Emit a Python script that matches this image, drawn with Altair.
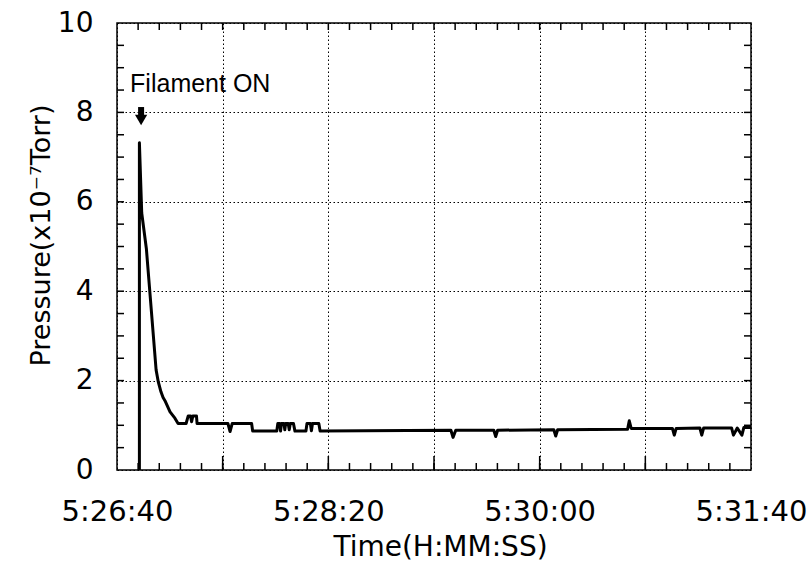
import altair as alt
import pandas as pd

# ---- data (seconds after 5:26:40, pressure in 1e-7 Torr) ----
time_s = [10.6, 10.6, 11.7, 13.9, 18.5, 19.5, 20.8, 21.8, 22.7, 25.1, 27.4, 28.9,
          32.7, 33.7, 34.8, 35.3, 35.9, 37.6, 37.9,
          52.5, 53.5, 54.5, 63.7, 64.2,
          75.6, 76.1, 77.0, 77.4, 77.8, 79.0, 79.4, 79.8, 81.0, 81.5, 82.0, 83.5, 84.2,
          89.4, 89.9, 91.5, 92.0, 92.5, 95.5, 96.1,
          158.0, 159.0, 160.3, 178.3, 179.2, 180.1, 206.7, 207.6, 208.5,
          241.6, 242.4, 243.3, 262.8, 263.7, 264.6, 275.8, 276.7, 277.6,
          290.8, 291.7, 293.5, 295.7, 296.6, 300.0]
pressure = [0.0, 7.32, 5.75, 4.95, 2.24, 1.98, 1.75, 1.62, 1.55, 1.30, 1.16, 1.04,
            1.04, 1.21, 1.21, 1.08, 1.21, 1.21, 1.04,
            1.04, 0.86, 1.04, 1.04, 0.87,
            0.87, 1.04, 1.04, 0.87, 1.04, 1.04, 0.90, 1.04, 1.04, 0.90, 1.04, 1.04, 0.87,
            0.87, 1.04, 1.04, 0.88, 1.04, 1.04, 0.87,
            0.89, 0.73, 0.89, 0.89, 0.75, 0.89, 0.90, 0.76, 0.90,
            0.91, 1.10, 0.93, 0.93, 0.78, 0.93, 0.94, 0.78, 0.94,
            0.94, 0.78, 0.94, 0.78, 0.95, 0.95]

x_grid_values = [0, 50, 100, 150, 200, 250, 300]
y_label_values = [0, 2, 4, 6, 8, 10]
x_minor_ticks = [v for v in range(10, 300, 10)]
x_major_ticks = [50, 100, 150, 200, 250]
y_minor_ticks = [v / 2 for v in range(1, 20)]

annotation_text = "Filament ON"

# ---- layout / style constants ----
W, H = 634, 447
TICK_P = 7 / 44.7       # 7 px in pressure units
TICK_T = 7 / 2.113      # 7 px in seconds
FONT = "DejaVu Sans"

df = pd.DataFrame({"t": time_s, "p": pressure})

xscale = alt.Scale(domain=[0, 300], nice=False, zero=False)
yscale = alt.Scale(domain=[0, 10], nice=False)

label_expr = (
    "datum.value % 100 == 0 ? "
    "(floor((19600 + datum.value) / 3600) + ':' + "
    "format(floor(((19600 + datum.value) % 3600) / 60), '02d') + ':' + "
    "format((19600 + datum.value) % 60, '02d')) : ''"
)

xaxis = alt.Axis(values=x_grid_values, labelExpr=label_expr, grid=True,
                 ticks=False, domain=False, labelFlush=False, labelOverlap=False,
                 labelFont=FONT, labelFontSize=29, labelPadding=27, labelColor="black",
                 title="Time(H:MM:SS)", titleFont=FONT, titleFontSize=28,
                 titleFontWeight="normal", titleColor="black",
                 titleBaseline="alphabetic", titleY=85, titleX=323)
yaxis = alt.Axis(values=y_label_values, grid=True, ticks=False, domain=False,
                 labelFont=FONT, labelFontSize=28, labelPadding=24, labelColor="black",
                 labelFlush=False, labelOverlap=False,
                 title="Pressure(x10\u207b\u2077Torr)", titleFont=FONT, titleFontSize=27,
                 titleFontWeight="normal", titleColor="black",
                 titleBaseline="alphabetic", titleX=-67.5, titleY=212, titleAngle=270)


def X():
    return alt.X("t:Q", scale=xscale, axis=xaxis)


def Y():
    return alt.Y("p:Q", scale=yscale, axis=yaxis)


line = alt.Chart(df).mark_line(color="black", strokeWidth=3, strokeJoin="round").encode(
    x=X(), y=Y()
)


def xticks(values, p0, p1):
    return alt.Chart(pd.DataFrame({"t": values})).transform_calculate(
        p=str(p0), p2=str(p1)
    ).mark_rule(color="black", strokeWidth=1.5).encode(x=X(), y=Y(), y2="p2:Q")


def yticks(values, t0, t1):
    return alt.Chart(pd.DataFrame({"p": values})).transform_calculate(
        t=str(t0), t2=str(t1)
    ).mark_rule(color="black", strokeWidth=1.5).encode(x=X(), y=Y(), x2="t2:Q")


ticks = [
    xticks(x_minor_ticks, 0, TICK_P),
    xticks(x_major_ticks, 0, 2 * TICK_P),
    xticks(x_minor_ticks, 10, 10 - TICK_P),
    yticks(y_minor_ticks, 0, TICK_T),
    yticks(y_minor_ticks, 300, 300 - TICK_T),
]

ANN_T, ANN_P = 6.2, 8.46
ARROW_T = 11.4

ann = alt.Chart(pd.DataFrame({"t": [ANN_T], "p": [ANN_P], "label": [annotation_text]})).mark_text(
    align="left", baseline="alphabetic", font="Liberation Sans", fontSize=25, color="black"
).encode(x=X(), y=Y(), text="label:N")

shaft = alt.Chart(pd.DataFrame({"t": [ARROW_T], "p": [8.12], "p2": [7.88]})).mark_rule(
    color="black", strokeWidth=6
).encode(x=X(), y=Y(), y2="p2:Q")

head = alt.Chart(pd.DataFrame({"t": [ARROW_T], "p": [7.83]})).mark_point(
    shape="triangle-down", filled=True, color="black", size=150, opacity=1
).encode(x=X(), y=Y())

chart = alt.layer(line, *ticks, ann, shaft, head).properties(
    width=W, height=H,
    autosize=alt.AutoSizeParams(type="none"),
    padding={"left": 117, "top": 23, "right": 60, "bottom": 91},
    background="white",
).configure_view(
    stroke="black", strokeWidth=1.5
).configure_axis(
    gridColor="black", gridDash=[1.5, 2.5], gridWidth=1, gridOpacity=1
)

chart.save("out.html", embed_options={"renderer": "svg", "actions": False})
